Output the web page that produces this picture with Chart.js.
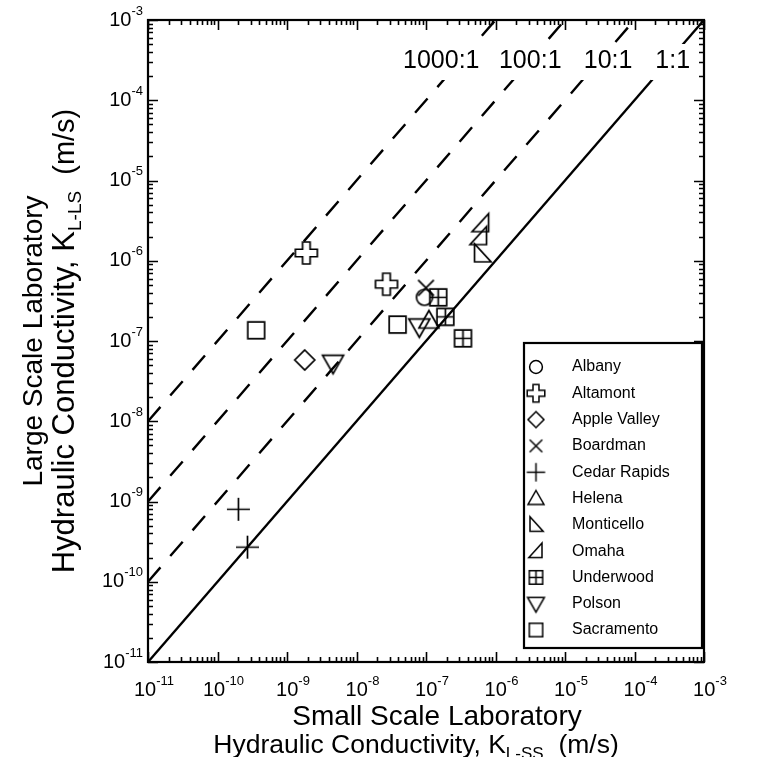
<!DOCTYPE html>
<html>
<head>
<meta charset="utf-8">
<script src="https://cdn.jsdelivr.net/npm/chart.js@4.4.0/dist/chart.umd.min.js"></script>
<style>
  body { margin: 0; background: #fff; }
</style>
</head>
<body>
<canvas id="chart" width="783" height="757"></canvas>
<script>
// sites and measured conductivities (m/s)
var sites = ["Albany", "Altamont", "Apple Valley", "Boardman", "Cedar Rapids", "Helena",
             "Monticello", "Omaha", "Underwood", "Polson", "Sacramento"];
var kSmall = [
  [9.5e-8],
  [1.9e-9, 2.7e-8],
  [1.8e-9],
  [1.0e-7],
  [2.0e-10, 2.7e-10],
  [1.1e-7],
  [6.4e-7],
  [5.8e-7, 6.2e-7],
  [1.5e-7, 1.9e-7, 3.4e-7],
  [4.6e-9, 8.0e-8],
  [3.6e-10, 3.9e-8]
];
var kLarge = [
  [3.5e-7],
  [1.25e-6, 5.1e-7],
  [5.8e-8],
  [4.6e-7],
  [8.0e-10, 2.7e-10],
  [1.8e-7],
  [1.22e-6],
  [2.0e-6, 2.9e-6],
  [3.5e-7, 2.0e-7, 1.08e-7],
  [5.3e-8, 1.5e-7],
  [1.36e-7, 1.6e-7]
];
var markerKinds = ["circle", "plusOutline", "diamond", "x", "plus", "triUp",
                   "triLeft", "triRight", "boxCross", "triDown", "square"];

// reference ratio lines  K_L-LS : K_L-SS
var ratios = [1, 10, 100, 1000];
var ratioLabels = ["1:1", "10:1", "100:1", "1000:1"];

var kMin = 1e-11, kMax = 1e-3;
var decades = [-11, -10, -9, -8, -7, -6, -5, -4, -3];

var FONT = "'Liberation Sans', Arial, Helvetica, sans-serif";

function makeMarker(kind, s, lw) {
  var pad = 3;
  var c = document.createElement('canvas');
  c.width = c.height = Math.ceil(s + 2 * pad);
  var g = c.getContext('2d');
  var h = s / 2;
  g.translate(c.width / 2, c.height / 2);
  g.strokeStyle = '#000';
  g.lineWidth = lw;
  g.lineJoin = 'miter';
  function poly(p) {
    g.moveTo(p[0][0], p[0][1]);
    for (var i = 1; i < p.length; i++) g.lineTo(p[i][0], p[i][1]);
    g.closePath();
  }
  g.beginPath();
  if (kind == 'circle') {
    g.arc(0, 0, h * 0.8, 0, Math.PI * 2);
  } else if (kind == 'plusOutline') {
    var a = h * 0.34;
    poly([[-a, -h], [a, -h], [a, -a], [h, -a], [h, a], [a, a], [a, h], [-a, h], [-a, a], [-h, a], [-h, -a], [-a, -a]]);
  } else if (kind == 'diamond') {
    poly([[0, -h], [h, 0], [0, h], [-h, 0]]);
  } else if (kind == 'x') {
    var b = h * 0.75;
    g.moveTo(-b, -b); g.lineTo(b, b);
    g.moveTo(b, -b); g.lineTo(-b, b);
  } else if (kind == 'plus') {
    g.moveTo(-h, 0); g.lineTo(h, 0);
    g.moveTo(0, -h); g.lineTo(0, h);
  } else if (kind == 'triUp') {
    poly([[0, -h], [h, h * 0.75], [-h, h * 0.75]]);
  } else if (kind == 'triDown') {
    poly([[0, h], [h, -h * 0.75], [-h, -h * 0.75]]);
  } else if (kind == 'triLeft') {
    poly([[-h * 0.75, -h], [-h * 0.75, h * 0.8], [h * 0.9, h * 0.8]]);
  } else if (kind == 'triRight') {
    poly([[h * 0.75, -h], [h * 0.75, h * 0.8], [-h * 0.9, h * 0.8]]);
  } else if (kind == 'square') {
    g.rect(-h * 0.8, -h * 0.8, h * 1.6, h * 1.6);
  } else if (kind == 'boxCross') {
    g.rect(-h * 0.8, -h * 0.8, h * 1.6, h * 1.6);
    g.moveTo(0, -h * 0.8); g.lineTo(0, h * 0.8);
    g.moveTo(-h * 0.8, 0); g.lineTo(h * 0.8, 0);
  }
  g.stroke();
  return c;
}

var plotSize = { circle: 20, plusOutline: 22, diamond: 20, x: 21, plus: 23, triUp: 20,
                 triLeft: 20, triRight: 20, boxCross: 21, triDown: 21, square: 21 };
var plotMarkers = markerKinds.map(function (k) { return makeMarker(k, plotSize[k], 1.7); });
var legendMarkers = markerKinds.map(function (k) { return makeMarker(k, plotSize[k] * 0.8, 1.5); });

var datasets = [];
ratios.forEach(function (r) {
  datasets.push({
    type: 'line',
    label: r + ':1',
    data: [{ x: kMin, y: kMin * r }, { x: kMax / r, y: kMax }],
    borderColor: '#000',
    borderWidth: 2.4,
    borderDash: r == 1 ? [] : [19, 15],
    pointRadius: 0,
    fill: false,
    order: 2
  });
});
sites.forEach(function (name, i) {
  datasets.push({
    type: 'scatter',
    label: name,
    data: kSmall[i].map(function (v, j) { return { x: v, y: kLarge[i][j] }; }),
    pointStyle: plotMarkers[i],
    pointRadius: 9,
    order: 1
  });
});

function richText(ctx, parts, x, y, align) {
  var w = 0;
  parts.forEach(function (p) { ctx.font = p.font; w += ctx.measureText(p.t).width; });
  var cx = align == 'center' ? x - w / 2 : (align == 'right' ? x - w : x);
  ctx.textAlign = 'left';
  parts.forEach(function (p) {
    ctx.font = p.font;
    ctx.fillText(p.t, cx, y + (p.dy || 0));
    cx += ctx.measureText(p.t).width;
  });
}

function powerLabel(e) {
  return [{ t: '10', font: '20px ' + FONT }, { t: String(e), font: '13px ' + FONT, dy: -9 }];
}

var framePlugin = {
  id: 'frame',
  afterDatasetsDraw: function (chart) {
    // ratio labels sit on white boxes that hide the lines behind them
    var ctx = chart.ctx, a = chart.chartArea, xs = chart.scales.x;
    var labelPos = { '1000:1': -6.78, '100:1': -5.5, '10:1': -4.38, '1:1': -3.45 };
    ctx.save();
    ctx.font = '25px ' + FONT;
    ctx.textAlign = 'center';
    ctx.textBaseline = 'alphabetic';
    ratioLabels.forEach(function (t) {
      var cx = xs.getPixelForValue(Math.pow(10, labelPos[t]));
      var w = ctx.measureText(t).width;
      ctx.fillStyle = '#fff';
      ctx.fillRect(cx - w / 2 - 5, a.top + 24, w + 10, 36);
      ctx.fillStyle = '#000';
      ctx.fillText(t, cx, a.top + 48);
    });
    ctx.restore();
  },
  afterDraw: function (chart) {
    var ctx = chart.ctx, a = chart.chartArea;
    var xs = chart.scales.x, ys = chart.scales.y;
    ctx.save();
    ctx.fillStyle = '#000';
    ctx.strokeStyle = '#000';

    // ticks, inward on all four sides
    ctx.lineWidth = 1.6;
    ctx.beginPath();
    for (var e = -11; e < -3; e++) {
      for (var m = 1; m <= 10; m++) {
        var v = m * Math.pow(10, e);
        var len = (m == 1 || m == 10) ? 10 : 5;
        var px = Math.round(xs.getPixelForValue(v)) + 0.5;
        var py = Math.round(ys.getPixelForValue(v)) + 0.5;
        ctx.moveTo(px, a.bottom); ctx.lineTo(px, a.bottom - len);
        ctx.moveTo(px, a.top); ctx.lineTo(px, a.top + len);
        ctx.moveTo(a.left, py); ctx.lineTo(a.left + len, py);
        ctx.moveTo(a.right, py); ctx.lineTo(a.right - len, py);
      }
    }
    ctx.stroke();

    // frame
    ctx.lineWidth = 2.2;
    ctx.strokeRect(a.left, a.top, a.right - a.left, a.bottom - a.top);

    // tick labels
    ctx.textBaseline = 'middle';
    decades.forEach(function (e) {
      var v = Math.pow(10, e);
      richText(ctx, powerLabel(e), xs.getPixelForValue(v) + 6, a.bottom + 28, 'center');
      richText(ctx, powerLabel(e), a.left - 5, ys.getPixelForValue(v), 'right');
    });

    // axis titles
    ctx.textBaseline = 'alphabetic';
    var big = '28px ' + FONT;
    var cxm = (a.left + a.right) / 2;
    richText(ctx, [{ t: 'Small Scale Laboratory', font: big }], cxm + 11, a.bottom + 63, 'center');
    richText(ctx, [{ t: 'Hydraulic Conductivity, K', font: '26.5px ' + FONT },
                   { t: 'L-SS', font: '17px ' + FONT, dy: 6 },
                   { t: '  (m/s)', font: '26.5px ' + FONT }], cxm - 10, a.bottom + 91, 'center');
    var cym = (a.top + a.bottom) / 2;
    ctx.save();
    ctx.translate(0, cym);
    ctx.rotate(-Math.PI / 2);
    richText(ctx, [{ t: 'Large Scale Laboratory', font: big }], 0, 42, 'center');
    richText(ctx, [{ t: 'Hydraulic Conductivity, K', font: '31px ' + FONT },
                   { t: 'L-LS', font: '19px ' + FONT, dy: 7 },
                   { t: '  (m/s)', font: '29px ' + FONT }], 0, 74, 'center');
    ctx.restore();

    // legend box
    var bw = 178, bh = 305;
    var bx = a.right - 2 - bw, by = a.bottom - 14 - bh;
    ctx.fillStyle = '#fff';
    ctx.fillRect(bx, by, bw, bh);
    ctx.lineWidth = 2.2;
    ctx.strokeRect(bx, by, bw, bh);
    ctx.fillStyle = '#000';
    ctx.font = '16px ' + FONT;
    ctx.textAlign = 'left';
    ctx.textBaseline = 'middle';
    sites.forEach(function (name, i) {
      var ry = by + 24 + i * 26.3;
      var mk = legendMarkers[i];
      ctx.drawImage(mk, bx + 12 - mk.width / 2, ry - mk.height / 2);
      ctx.fillText(name, bx + 48, ry);
    });
    ctx.restore();
  }
};

new Chart(document.getElementById('chart'), {
  data: { datasets: datasets },
  options: {
    responsive: false,
    animation: false,
    devicePixelRatio: 1,
    layout: { padding: { left: 148, top: 20, right: 79, bottom: 95 } },
    plugins: { legend: { display: false }, tooltip: { enabled: false } },
    scales: {
      x: { type: 'logarithmic', min: kMin, max: kMax, display: false },
      y: { type: 'logarithmic', min: kMin, max: kMax, display: false }
    }
  },
  plugins: [framePlugin]
});
</script>
</body>
</html>
